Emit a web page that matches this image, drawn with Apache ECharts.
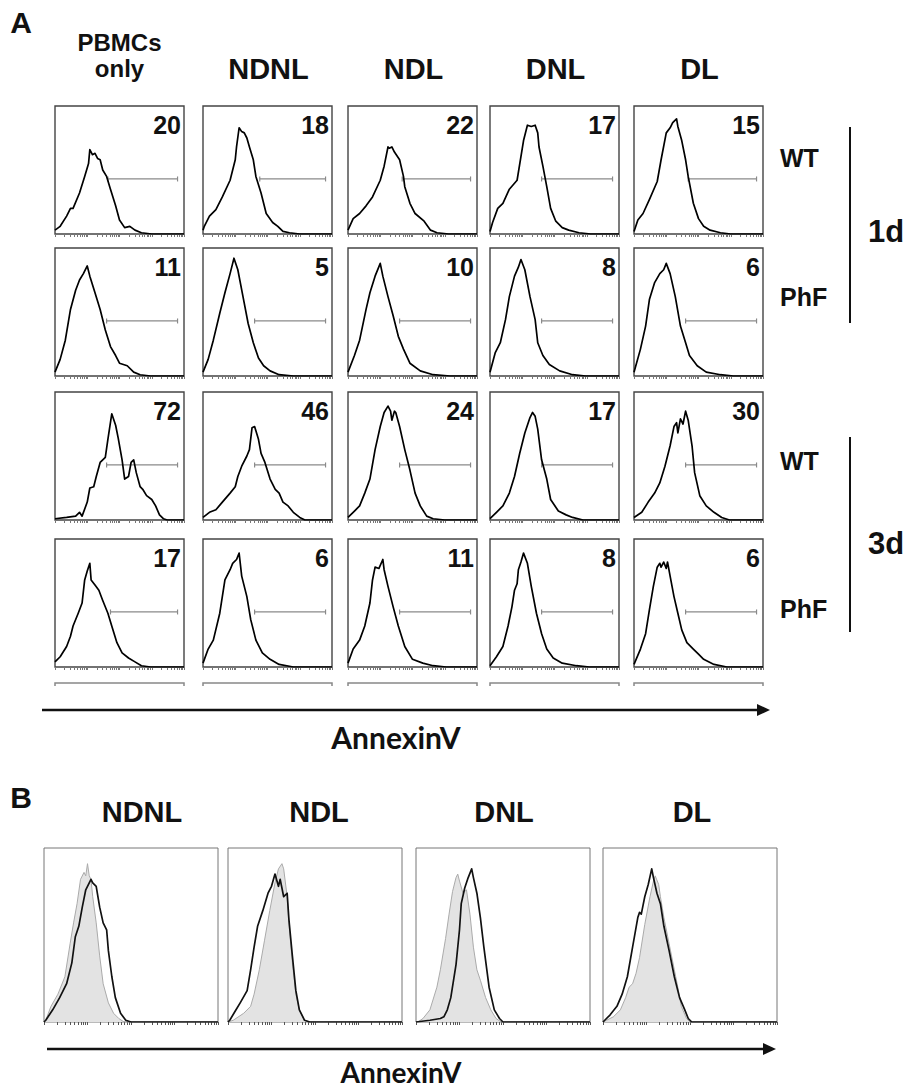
<!DOCTYPE html>
<html><head><meta charset="utf-8">
<script src="https://cdn.jsdelivr.net/npm/echarts@6/dist/echarts.min.js"></script>
<style>html,body{margin:0;padding:0;background:#fff}#chart{width:907px;height:1091px}</style>
</head><body><div id="chart"></div>
<script>
// ---------------- DATA ----------------
const colLabelsA = ['NDNL', 'NDL', 'DNL', 'DL'];
const firstColLabel = ['PBMCs', 'only'];
const colLabelsB = ['NDNL', 'NDL', 'DNL', 'DL'];
const rowLabels = ['WT', 'PhF', 'WT', 'PhF'];
const dayLabels = ['1d', '3d'];
const axisTitle = 'AnnexinV';
const panelLetters = ['A', 'B'];

// % AnnexinV-positive cells in the gate, rows x columns
const gatePercents = [
  [20, 18, 22, 17, 15],
  [11, 5, 10, 8, 6],
  [72, 46, 24, 17, 30],
  [17, 6, 11, 8, 6]
];
// gate start (channel, 0-100 scale), gate end and gate display level
const gateStart = [
  [41, 44, 42, 40, 42],
  [40, 40, 40, 40, 40],
  [40, 40, 40, 40, 40],
  [43, 40, 40, 40, 40]
];
const gateEnd = 95;
const gateLevel = 43;

// histograms: [channel (0-100), relative count (% of frame height)]
const pbmcWT1d = [[0,3],[4,6],[9,14],[12,20],[14,20],[19,32],[23,45],[26,55],[27,66],[29,62],[31,63],[33,59],[35,58],[37,50],[40,45],[43,35],[47,22],[50,11],[54,5],[58,6],[62,3],[67,1],[75,0],[100,0]];
const ndnlWT1d = [[0,3],[1,6],[5,14],[10,19],[15,29],[21,42],[25,58],[26,68],[28,83],[30,80],[32,79],[34,75],[36,68],[39,58],[41,45],[45,32],[49,16],[54,9],[58,6],[62,2],[67,1],[75,0],[100,0]];
const ndlWT1d = [[0,3],[4,12],[9,16],[14,22],[19,29],[25,42],[28,53],[31,68],[32,67],[34,68],[36,64],[40,58],[43,45],[44,37],[48,24],[52,16],[59,10],[64,3],[69,1],[78,0],[100,0]];
const dnlWT1d = [[0,2],[2,9],[6,20],[10,24],[15,35],[21,42],[26,73],[29,85],[32,84],[35,85],[37,79],[38,68],[41,53],[44,37],[47,20],[51,10],[56,5],[61,3],[69,1],[78,0],[100,0]];
const dlWT1d = [[0,2],[3,11],[7,16],[12,27],[18,41],[21,58],[25,79],[28,83],[30,87],[33,90],[34,84],[37,73],[40,58],[42,45],[46,24],[50,12],[54,6],[59,3],[67,1],[75,0],[100,0]];

const pbmcPhF1d = [[0,3],[4,13],[8,28],[12,52],[16,67],[19,75],[22,80],[25,86],[27,78],[31,65],[35,52],[39,36],[43,23],[47,16],[50,10],[56,8],[61,3],[66,1],[74,0],[100,0]];
const ndnlPhF1d = [[0,3],[4,13],[8,28],[13,49],[17,65],[21,80],[23,88],[24,92],[27,83],[31,62],[35,41],[39,26],[43,14],[47,8],[52,4],[59,1],[70,0],[100,0]];
const ndlPhF1d = [[0,3],[5,16],[9,28],[14,52],[17,65],[21,78],[25,88],[27,78],[31,62],[35,47],[39,31],[43,21],[48,10],[56,4],[66,1],[79,0],[100,0]];
const dnlPhF1d = [[0,3],[4,18],[8,26],[12,44],[15,62],[19,78],[22,85],[24,91],[27,83],[31,62],[35,44],[37,26],[41,16],[46,9],[54,4],[64,1],[74,0],[100,0]];
const dlPhF1d = [[0,3],[5,21],[9,39],[12,60],[16,73],[20,80],[23,83],[25,88],[28,80],[32,62],[36,39],[40,26],[43,16],[49,8],[56,3],[67,1],[77,0],[100,0]];

const pbmcWT3d = [[0,1],[9,2],[16,3],[19,6],[21,3],[25,14],[27,25],[30,26],[32,34],[35,45],[39,49],[41,63],[44,83],[47,74],[49,64],[52,47],[54,32],[57,34],[59,45],[61,47],[63,37],[66,26],[68,24],[71,19],[75,16],[78,11],[81,4],[84,1],[87,0],[100,0]];
const ndnlWT3d = [[0,2],[5,6],[10,8],[15,14],[21,21],[25,26],[27,34],[30,42],[34,50],[36,55],[38,72],[40,73],[43,63],[45,52],[48,45],[52,32],[56,24],[59,21],[62,14],[66,11],[70,6],[75,2],[79,0],[100,0]];
const ndlWT3d = [[0,2],[5,7],[9,11],[13,21],[17,32],[21,55],[25,73],[28,84],[31,89],[33,85],[34,78],[36,85],[37,84],[40,73],[44,55],[48,39],[52,21],[56,11],[61,3],[66,1],[75,0],[100,0]];
const dnlWT3d = [[0,1],[5,6],[10,11],[15,21],[19,34],[23,52],[27,68],[31,80],[33,84],[35,81],[37,71],[40,47],[44,32],[47,16],[53,7],[59,4],[64,2],[72,0],[100,0]];
const dlWT3d = [[0,2],[6,6],[11,14],[16,21],[20,29],[24,42],[28,58],[31,73],[33,76],[34,68],[36,79],[38,75],[40,85],[42,78],[45,58],[47,37],[51,19],[56,11],[62,6],[68,2],[74,0],[100,0]];

const pbmcPhF3d = [[0,4],[4,8],[9,16],[12,24],[14,32],[18,42],[21,50],[23,68],[25,75],[27,81],[28,68],[31,64],[34,60],[37,52],[41,42],[44,32],[48,19],[52,11],[57,7],[62,4],[67,1],[74,0],[100,0]];
const ndnlPhF3d = [[0,3],[4,14],[8,21],[13,42],[17,68],[21,76],[23,81],[26,84],[28,89],[30,71],[34,55],[37,37],[41,21],[46,11],[52,6],[59,2],[70,0],[100,0]];
const ndlPhF3d = [[0,3],[4,14],[9,21],[13,32],[17,50],[19,68],[21,78],[24,77],[27,84],[28,76],[31,63],[35,47],[39,32],[44,16],[50,6],[58,3],[66,1],[76,0],[100,0]];
const dnlPhF3d = [[0,1],[5,8],[10,16],[14,32],[17,47],[19,60],[21,65],[22,76],[24,82],[26,89],[29,81],[32,63],[36,42],[40,26],[44,14],[49,7],[56,3],[67,1],[77,0],[100,0]];
const dlPhF3d = [[0,2],[5,14],[9,26],[12,45],[15,63],[18,78],[20,81],[21,78],[23,82],[25,77],[26,82],[28,71],[31,55],[34,42],[37,29],[41,19],[46,14],[50,10],[54,6],[62,2],[72,0],[100,0]];

// panel B overlays: grey filled histogram and black outline histogram
const bNdnlGray = [[0,0],[1,1],[4,9],[8,16],[12,26],[15,45],[17,57],[19,68],[21,82],[23,86],[24,84],[25,91],[26,84],[27,82],[28,72],[30,57],[32,38],[34,22],[37,11],[40,5],[43,2],[46,0],[100,0]];
const bNdnlBlack = [[0,0],[1,1],[5,7],[9,14],[13,22],[16,34],[18,49],[20,55],[22,66],[24,76],[26,80],[27,82],[28,80],[30,78],[32,66],[34,57],[36,53],[37,41],[39,26],[41,14],[44,5],[47,1],[50,0],[100,0]];
const bNdlGray = [[0,0],[3,1],[9,5],[13,9],[15,16],[18,30],[21,47],[24,64],[27,80],[29,88],[31,91],[32,88],[34,72],[35,57],[37,34],[39,16],[41,7],[44,1],[46,0],[100,0]];
const bNdlBlack = [[0,0],[1,1],[4,6],[7,11],[11,18],[13,30],[15,43],[17,55],[20,64],[23,74],[25,78],[27,85],[29,78],[30,82],[32,72],[34,74],[35,59],[37,38],[39,18],[41,7],[44,1],[47,0],[100,0]];
const bDnlGray = [[0,0],[1,0],[4,2],[8,7],[12,20],[14,30],[17,48],[19,62],[21,75],[23,83],[24,85],[25,81],[27,74],[29,76],[31,62],[33,43],[35,30],[37,24],[40,14],[43,7],[46,2],[49,0],[100,0]];
const bDnlBlack = [[0,0],[8,1],[14,2],[16,3],[18,7],[20,14],[23,33],[25,53],[26,68],[28,77],[30,83],[32,88],[33,83],[35,74],[37,60],[39,43],[42,20],[45,7],[48,2],[50,0],[100,0]];
const bDlGray = [[0,0],[2,1],[6,3],[10,7],[13,14],[15,20],[17,22],[19,28],[21,37],[24,56],[27,72],[29,81],[30,84],[32,79],[33,72],[35,60],[38,45],[41,30],[43,20],[45,9],[48,2],[50,0],[100,0]];
const bDlBlack = [[0,0],[1,1],[4,4],[8,9],[11,16],[14,26],[17,43],[20,60],[21,63],[22,62],[24,72],[26,79],[28,88],[29,83],[31,74],[33,68],[35,55],[38,41],[41,26],[44,14],[47,7],[49,2],[51,0],[100,0]];

const histA = [
  [pbmcWT1d, ndnlWT1d, ndlWT1d, dnlWT1d, dlWT1d],
  [pbmcPhF1d, ndnlPhF1d, ndlPhF1d, dnlPhF1d, dlPhF1d],
  [pbmcWT3d, ndnlWT3d, ndlWT3d, dnlWT3d, dlWT3d],
  [pbmcPhF3d, ndnlPhF3d, ndlPhF3d, dnlPhF3d, dlPhF3d]
];
const histBGray = [bNdnlGray, bNdlGray, bDnlGray, bDlGray];
const histBBlack = [bNdnlBlack, bNdlBlack, bDnlBlack, bDlBlack];

// ---------------- LAYOUT ----------------
const A_left = [55, 203, 348, 490, 634];
const A_top = [106, 248, 392, 539];
const A_w = 129, A_h = 128;
const B_left = [44, 228, 416, 603];
const B_top = 848, B_w = 174, B_h = 174;
const B_headX = [142, 319, 504, 692];

const F = '"Liberation Sans", Arial, sans-serif';
const chart = echarts.init(document.getElementById('chart'), null, {renderer: 'svg'});
const grids = [], xAxes = [], yAxes = [], series = [], graphics = [];

const tickVals = [];
for (let d = 0; d < 4; d++) for (let k = 1; k < 10; k++) tickVals.push(+(25 * (d + Math.log10(k))).toFixed(2));
tickVals.push(100);

function addPanel(left, top, w, h, border, bw, tickColor) {
  const i = grids.length;
  grids.push({left, top, width: w, height: h, show: true, borderColor: border, borderWidth: bw, backgroundColor: 'rgba(0,0,0,0)'});
  xAxes.push({gridIndex: i, type: 'value', min: 0, max: 100, interval: 25,
    axisLine: {show: false}, axisLabel: {show: false}, splitLine: {show: false},
    axisTick: {show: true, length: 3, customValues: tickVals, lineStyle: {color: tickColor, width: 1}}});
  yAxes.push({gridIndex: i, type: 'value', min: 0, max: 100,
    axisLine: {show: false}, axisLabel: {show: false}, splitLine: {show: false}, axisTick: {show: false}});
  return i;
}
function txt(x, y, text, font, align, color) {
  graphics.push({type: 'text', x, y, silent: true, z: 10,
    style: {text, font, fill: color || '#111', align: align || 'center', verticalAlign: 'middle'}});
}
function line(x1, y1, x2, y2, color, w) {
  graphics.push({type: 'line', silent: true, shape: {x1, y1, x2, y2}, style: {stroke: color, lineWidth: w}});
}
function arrow(x1, x2, y) {
  line(x1, y, x2 - 10, y, '#111', 2.5);
  graphics.push({type: 'polygon', silent: true, shape: {points: [[x2, y], [x2 - 13, y - 6], [x2 - 13, y + 6]]}, style: {fill: '#111'}});
}

// panel A grid of histograms
for (let r = 0; r < 4; r++) {
  for (let c = 0; c < 5; c++) {
    const i = addPanel(A_left[c], A_top[r], A_w, A_h, '#444', 1.4, '#777');
    series.push({type: 'line', xAxisIndex: i, yAxisIndex: i, data: histA[r][c], showSymbol: false,
      lineStyle: {color: '#000', width: 1.7, join: 'round'}, silent: true, animation: false, z: 3});
    series.push({type: 'line', xAxisIndex: i, yAxisIndex: i,
      data: [[gateStart[r][c], gateLevel], [gateEnd, gateLevel]],
      symbol: 'rect', symbolSize: [1.2, 5], showSymbol: true, itemStyle: {color: '#8a8a8a'},
      lineStyle: {color: '#8a8a8a', width: 1.2}, silent: true, animation: false, z: 2});
    txt(A_left[c] + A_w - 3, A_top[r] + 19, String(gatePercents[r][c]), 'bold 25px ' + F, 'right');
  }
}
// panel B overlays
for (let c = 0; c < 4; c++) {
  const i = addPanel(B_left[c], B_top, B_w, B_h, '#777', 1, '#555');
  series.push({type: 'line', xAxisIndex: i, yAxisIndex: i, data: histBGray[c], showSymbol: false,
    lineStyle: {color: '#aaa', width: 1}, areaStyle: {color: '#e3e3e3', opacity: 1}, silent: true, animation: false, z: 2});
  series.push({type: 'line', xAxisIndex: i, yAxisIndex: i, data: histBBlack[c], showSymbol: false,
    lineStyle: {color: '#111', width: 1.7, join: 'round'}, silent: true, animation: false, z: 3});
  txt(B_headX[c], 812, colLabelsB[c], 'bold 29px ' + F);
}

// texts and decorations of panel A
txt(21, 22, panelLetters[0], 'bold 30px ' + F);
txt(21, 797, panelLetters[1], 'bold 30px ' + F);
txt(A_left[0] + A_w / 2, 42, firstColLabel[0], 'bold 24px ' + F);
txt(A_left[0] + A_w / 2, 68, firstColLabel[1], 'bold 24px ' + F);
for (let c = 0; c < 4; c++) txt(A_left[c + 1] + A_w / 2 + 1, 69, colLabelsA[c], 'bold 29px ' + F);
const rowLabelY = [158, 297, 461, 609];
for (let r = 0; r < 4; r++) txt(780, rowLabelY[r], rowLabels[r], 'bold 25px ' + F, 'left');
txt(868, 231, dayLabels[0], 'bold 31px ' + F, 'left');
txt(868, 543, dayLabels[1], 'bold 31px ' + F, 'left');
line(850, 127, 850, 323, '#111', 2);
line(850, 437, 850, 632, '#111', 2);
for (let c = 0; c < 5; c++) {
  graphics.push({type: 'polyline', silent: true,
    shape: {points: [[A_left[c], 686], [A_left[c], 683], [A_left[c] + A_w, 683], [A_left[c] + A_w, 686]]},
    style: {stroke: '#888', lineWidth: 1.5, fill: null}});
}
arrow(42, 770, 710);
txt(396, 737, axisTitle, 'bold 30px Lato, "Open Sans", sans-serif');
arrow(47, 776, 1049);
txt(401, 1072, axisTitle, 'bold 28px Lato, "Open Sans", sans-serif');

chart.setOption({
  animation: false,
  backgroundColor: '#fff',
  grid: grids, xAxis: xAxes, yAxis: yAxes, series,
  graphic: graphics
});
</script></body></html>
